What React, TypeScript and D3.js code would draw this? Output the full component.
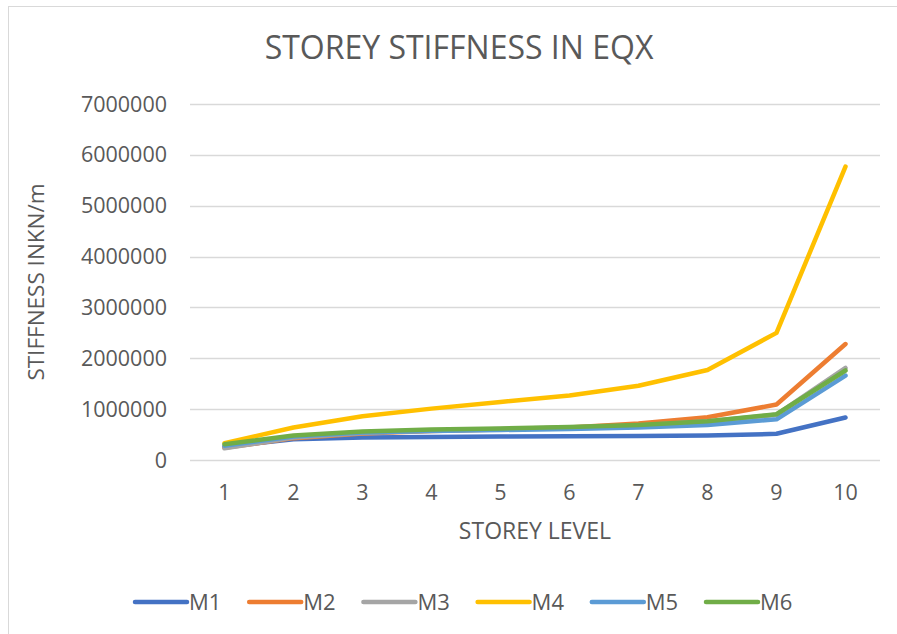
import React, { useEffect, useRef } from "react";
import * as d3 from "d3";

// storey levels and stiffness values (kN/m) per model
const levels = ["1", "2", "3", "4", "5", "6", "7", "8", "9", "10"];
const M1 = [260000, 410000, 440000, 450000, 460000, 465000, 470000, 480000, 515000, 835000];
const M2 = [240000, 430000, 520000, 570000, 600000, 640000, 720000, 840000, 1090000, 2280000];
const M3 = [230000, 440000, 530000, 580000, 610000, 640000, 680000, 760000, 890000, 1810000];
const M4 = [330000, 640000, 860000, 1010000, 1140000, 1270000, 1460000, 1770000, 2500000, 5770000];
const M5 = [280000, 460000, 540000, 570000, 590000, 610000, 640000, 690000, 800000, 1660000];
const M6 = [310000, 480000, 560000, 600000, 620000, 650000, 690000, 760000, 900000, 1760000];
const yTicks = [0, 1000000, 2000000, 3000000, 4000000, 5000000, 6000000, 7000000];

const series = [
    { name: "M1", values: M1, color: "#4472C4" },
    { name: "M2", values: M2, color: "#ED7D31" },
    { name: "M3", values: M3, color: "#A5A5A5" },
    { name: "M4", values: M4, color: "#FFC000" },
    { name: "M5", values: M5, color: "#5B9BD5" },
    { name: "M6", values: M6, color: "#70AD47" },
];

export default function App() {
    const svgRef = useRef<SVGSVGElement>(null);

    useEffect(() => {
        const width = 897;
        const height = 634;
        const margin = { top: 104, right: 17, bottom: 174, left: 190 };
        const font = "'Open Sans', sans-serif";
        const textColor = "#595959";

        const root = d3.select(svgRef.current);
        root.selectAll("*").remove();
        root.attr("width", width).attr("height", height);

        root.append("rect")
            .attr("x", 8.5).attr("y", 6.5)
            .attr("width", 900).attr("height", 700)
            .attr("fill", "white")
            .attr("stroke", "#d9d9d9");

        const innerW = width - margin.left - margin.right;
        const innerH = height - margin.top - margin.bottom;

        const svg = root.append("g")
            .attr("transform", `translate(${margin.left}, ${margin.top})`);

        const xScale = d3.scaleBand()
            .domain(levels)
            .range([0, innerW]);

        const yScale = d3.scaleLinear()
            .domain([0, 7000000])
            .range([innerH, 0]);

        // 그리드 라인
        svg.selectAll(".grid")
            .data(yTicks)
            .enter()
            .append("line")
            .attr("x1", 0)
            .attr("x2", innerW)
            .attr("y1", d => Math.round(yScale(d)) + 0.5)
            .attr("y2", d => Math.round(yScale(d)) + 0.5)
            .attr("stroke", "#d9d9d9")
            .attr("stroke-width", 1.3);

        // Y축 라벨
        svg.selectAll(".ytick")
            .data(yTicks)
            .enter()
            .append("text")
            .attr("x", -23)
            .attr("y", d => yScale(d))
            .attr("dy", "0.35em")
            .attr("text-anchor", "end")
            .attr("font-family", font)
            .attr("font-size", "21.5px")
            .attr("fill", textColor)
            .text(d => String(d));

        // X축 라벨
        svg.selectAll(".xtick")
            .data(levels)
            .enter()
            .append("text")
            .attr("x", d => (xScale(d) ?? 0) + xScale.bandwidth() / 2)
            .attr("y", innerH + 32)
            .attr("dy", "0.35em")
            .attr("text-anchor", "middle")
            .attr("font-family", font)
            .attr("font-size", "21.5px")
            .attr("fill", textColor)
            .text(d => d);

        const line = d3.line<number>()
            .x((_, i) => (xScale(levels[i]) ?? 0) + xScale.bandwidth() / 2)
            .y(d => yScale(d));

        series.forEach(s => {
            svg.append("path")
                .datum(s.values)
                .attr("d", line)
                .attr("fill", "none")
                .attr("stroke", s.color)
                .attr("stroke-width", 4.5)
                .attr("stroke-linecap", "round")
                .attr("stroke-linejoin", "round");
        });

        // 제목
        root.append("text")
            .attr("x", 459)
            .attr("y", 48)
            .attr("dy", "0.35em")
            .attr("text-anchor", "middle")
            .attr("font-family", font)
            .attr("font-size", "32px")
            .attr("fill", textColor)
            .text("STOREY STIFFNESS IN EQX");

        // 축 제목
        root.append("text")
            .attr("x", margin.left + innerW / 2)
            .attr("y", 531)
            .attr("dy", "0.35em")
            .attr("text-anchor", "middle")
            .attr("font-family", font)
            .attr("font-size", "23px")
            .attr("fill", textColor)
            .text("STOREY LEVEL");

        root.append("text")
            .attr("transform", `translate(36, ${margin.top + innerH / 2}) rotate(-90)`)
            .attr("dy", "0.35em")
            .attr("text-anchor", "middle")
            .attr("font-family", font)
            .attr("font-size", "22.5px")
            .attr("fill", textColor)
            .text("STIFFNESS INKN/m");

        // 범례
        const legend = root.append("g").attr("transform", "translate(135, 602)");
        series.forEach((s, i) => {
            const g = legend.append("g").attr("transform", `translate(${i * 114.2}, 0)`);
            g.append("line")
                .attr("x1", 0).attr("x2", 52)
                .attr("y1", 0).attr("y2", 0)
                .attr("stroke", s.color)
                .attr("stroke-width", 4.5)
                .attr("stroke-linecap", "round");
            g.append("text")
                .attr("x", 54)
                .attr("y", 0)
                .attr("dy", "0.35em")
                .attr("font-family", font)
                .attr("font-size", "22px")
                .attr("fill", textColor)
                .text(s.name);
        });
    }, []);

    return <svg ref={svgRef} style={{ position: "absolute", left: 0, top: 0 }}></svg>;
}
